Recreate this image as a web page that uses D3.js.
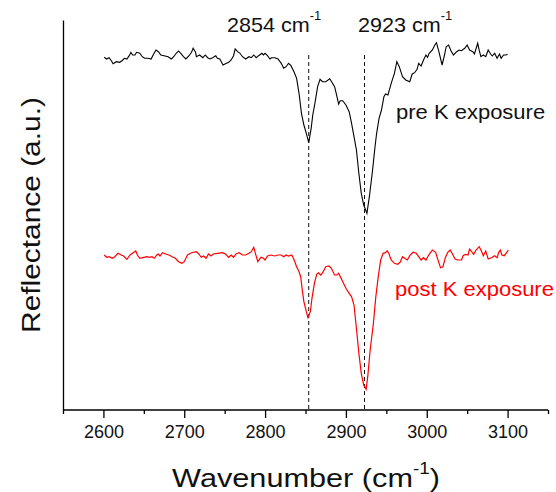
<!DOCTYPE html>
<html><head><meta charset="utf-8">
<script src="https://cdn.jsdelivr.net/npm/d3@7/dist/d3.min.js"></script>
<style>body{margin:0;background:#fff}svg{display:block;font-family:"Liberation Sans",Arial,sans-serif}</style>
</head><body>
<svg id="c" width="556" height="492"></svg>
<script>
const preWavenumber = [2601,2604,2607,2610,2612,2616,2620,2623,2626,2629,
2632,2634,2636,2639,2641,2645,2648,2651,2655,2659,
2662,2665,2668,2671,2675,2680,2684,2687,2690,2693,
2696,2699,2702,2706,2709,2711,2714,2715,2719,2723,
2726,2729,2732,2735,2739,2741,2744,2748,2751,2755,
2758,2761,2763,2766,2769,2772,2776,2780,2783,2786,
2789,2792,2796,2798,2800,2803,2806,2808,2812,2816,
2820,2823,2826,2829,2832,2836,2839,2842,2845,2848,
2851,2854,2857,2859,2862,2865,2868,2871,2875,2880,
2883,2886,2888,2891,2893,2896,2900,2904,2907,2910,
2913,2916,2919,2922,2926,2929,2933,2936,2938,2941,
2944,2947,2949,2952,2956,2960,2963,2966,2970,2974,
2979,2982,2985,2988,2990,2993,2996,2999,3001,3003,
3007,3010,3012,3015,3019,3022,3024,3027,3030,3033,
3037,3040,3043,3047,3050,3053,3057,3059,3063,3065,
3067,3070,3073,3076,3079,3081,3084,3087,3090,3092,
3095,3098,3100];
const preReflectance = [3.527,3.51,3.523,3.49,3.463,3.483,3.477,3.493,3.517,3.51,
3.543,3.577,3.55,3.55,3.577,3.567,3.533,3.517,3.517,3.51,
3.557,3.60,3.583,3.55,3.543,3.533,3.51,3.533,3.567,3.59,
3.563,3.533,3.51,3.543,3.577,3.617,3.577,3.533,3.55,3.523,
3.55,3.523,3.51,3.523,3.543,3.517,3.51,3.45,3.463,3.477,
3.50,3.543,3.61,3.583,3.567,3.533,3.51,3.533,3.523,3.55,
3.523,3.543,3.567,3.55,3.567,3.543,3.51,3.523,3.523,3.51,
3.467,3.417,3.433,3.467,3.443,3.377,3.317,3.167,2.967,2.85,
2.767,2.673,2.817,2.95,3.083,3.233,3.307,3.283,3.283,3.313,
3.273,3.233,3.167,3.06,3.093,3.093,3.05,2.983,2.867,2.733,
2.60,2.367,2.167,2.05,1.967,2.133,2.40,2.633,2.767,2.917,
3.00,3.133,3.16,3.15,3.267,3.367,3.483,3.433,3.333,3.30,
3.283,3.36,3.373,3.407,3.467,3.44,3.50,3.55,3.527,3.567,
3.60,3.65,3.673,3.583,3.45,3.55,3.633,3.65,3.593,3.55,
3.583,3.60,3.593,3.617,3.65,3.60,3.583,3.56,3.667,3.593,
3.533,3.55,3.533,3.60,3.56,3.54,3.567,3.517,3.56,3.517,
3.55,3.55,3.557];
const postWavenumber = [2601,2604,2607,2611,2614,2618,2622,2625,2629,2633,
2636,2640,2642,2645,2650,2654,2657,2660,2663,2666,
2668,2670,2673,2677,2681,2685,2689,2693,2697,2700,
2704,2709,2715,2718,2721,2724,2727,2730,2733,2736,
2741,2747,2751,2755,2758,2761,2764,2768,2772,2776,
2780,2783,2786,2788,2791,2793,2795,2798,2800,2803,
2807,2812,2816,2820,2823,2826,2829,2833,2836,2839,
2842,2844,2846,2848,2851,2853,2856,2858,2861,2864,
2866,2869,2872,2875,2879,2882,2886,2889,2891,2894,
2897,2900,2904,2907,2910,2913,2916,2919,2922,2925,
2927,2930,2934,2937,2940,2943,2946,2949,2951,2953,
2956,2960,2964,2967,2970,2974,2976,2979,2983,2987,
2990,2993,2996,2999,3003,3007,3011,3013,3017,3020,
3023,3026,3029,3032,3035,3038,3043,3045,3048,3051,
3053,3055,3058,3061,3065,3068,3070,3073,3076,3080,
3084,3087,3089,3091,3093,3096,3099,3101];
const postReflectance = [1.55,1.527,1.533,1.517,1.533,1.567,1.55,1.54,1.507,1.55,
1.567,1.59,1.55,1.517,1.527,1.533,1.527,1.533,1.517,1.55,
1.56,1.54,1.573,1.56,1.55,1.533,1.517,1.483,1.467,1.483,
1.55,1.573,1.583,1.56,1.527,1.54,1.517,1.56,1.54,1.56,
1.567,1.573,1.56,1.527,1.55,1.527,1.56,1.573,1.55,1.55,
1.567,1.583,1.627,1.567,1.483,1.507,1.527,1.517,1.50,1.54,
1.55,1.54,1.55,1.55,1.533,1.55,1.54,1.55,1.50,1.433,
1.383,1.333,1.20,1.083,0.983,0.923,0.983,1.117,1.267,1.36,
1.373,1.35,1.383,1.433,1.44,1.417,1.35,1.35,1.367,1.317,
1.267,1.217,1.167,1.133,1.05,0.817,0.567,0.367,0.25,0.207,
0.333,0.60,0.867,1.133,1.333,1.50,1.567,1.573,1.593,1.567,
1.50,1.467,1.457,1.477,1.533,1.51,1.50,1.543,1.577,1.567,
1.533,1.50,1.523,1.50,1.557,1.60,1.577,1.523,1.423,1.433,
1.523,1.577,1.60,1.557,1.51,1.50,1.50,1.543,1.557,1.55,
1.61,1.59,1.557,1.60,1.633,1.583,1.543,1.59,1.51,1.523,
1.543,1.523,1.577,1.60,1.55,1.543,1.577,1.60];
const majorTicks = [2600,2700,2800,2900,3000,3100];
const minorTicks = [2550,2650,2750,2850,2950,3050,3150];
const peakPositions = [2854, 2923];
const peakLabels = ["2854 cm", "2923 cm"];
const seriesLabels = ["pre K exposure", "post K exposure"];
const xTitle = "Wavenumber (cm";
const yTitle = "Reflectance (a.u.)";

const svg = d3.select("#c");
const x = d3.scaleLinear().domain([2550, 3150]).range([63, 548]);
const y = d3.scaleLinear().domain([0, 3.9]).range([410, 20]);

// dashed peak markers
svg.selectAll("line.peak").data(peakPositions).enter().append("line")
  .attr("x1", d => x(d)).attr("x2", d => x(d))
  .attr("y1", 55).attr("y2", 410)
  .attr("stroke", "#111").attr("stroke-width", 1).attr("stroke-dasharray", "4,3");

// curves
const line = d3.line().x(d => x(d[0])).y(d => y(d[1]));
svg.append("path").datum(d3.zip(preWavenumber, preReflectance))
  .attr("d", line).attr("fill", "none").attr("stroke", "#000").attr("stroke-width", 1.1);
svg.append("path").datum(d3.zip(postWavenumber, postReflectance))
  .attr("d", line).attr("fill", "none").attr("stroke", "#ff0000").attr("stroke-width", 1.2);

// axes
const xAxis = svg.append("g").attr("transform", "translate(0,410)")
  .call(d3.axisBottom(x).tickValues(majorTicks).tickFormat(d3.format("d")).tickSize(8).tickSizeOuter(0));
xAxis.select(".domain").attr("stroke", "#000").attr("stroke-width", 1.3).attr("d", "M63,0H548");
xAxis.selectAll(".tick line").attr("stroke", "#000").attr("stroke-width", 1.3);
xAxis.selectAll(".tick text").attr("font-size", 18).attr("font-family", "Liberation Sans, Arial, sans-serif")
  .attr("fill", "#111").attr("y", 0).attr("dy", 0).attr("transform", "translate(0,28)");
const minorG = svg.append("g").attr("transform", "translate(0,410)")
  .call(d3.axisBottom(x).tickValues(minorTicks).tickFormat("").tickSize(4).tickSizeOuter(0));
minorG.select(".domain").remove();
minorG.selectAll(".tick line").attr("stroke", "#000").attr("stroke-width", 1.3);

const yAxis = svg.append("g").attr("transform", "translate(63,0)")
  .call(d3.axisLeft(y).tickValues([]).tickSizeOuter(0));
yAxis.select(".domain").attr("stroke", "#000").attr("stroke-width", 1.3);

// peak labels
const peakLabelX = [227, 358];
peakLabels.forEach((t, i) => {
  const g = svg.append("g").attr("transform", `translate(${peakLabelX[i]},32) scale(1.08,1)`);
  const tx = g.append("text").attr("font-size", 20).attr("fill", "#111");
  tx.append("tspan").text(t);
  tx.append("tspan").attr("font-size", 12).attr("dy", -12).text("-1");
});

// series labels
const labelPos = [[396, 119, "#111"], [395, 296, "#ff0000"]];
seriesLabels.forEach((t, i) => {
  svg.append("g").attr("transform", `translate(${labelPos[i][0]},${labelPos[i][1]}) scale(1.1,1)`)
    .append("text").attr("font-size", 20).attr("fill", labelPos[i][2]).text(t);
});

// axis titles
const xt = svg.append("g").attr("transform", "translate(306,487) scale(1.18,1)")
  .append("text").attr("text-anchor", "middle").attr("font-size", 26).attr("fill", "#111");
xt.append("tspan").text(xTitle);
xt.append("tspan").attr("font-size", 16).attr("dy", -13).text("-1");
xt.append("tspan").attr("font-size", 26).attr("dy", 13).text(")");

svg.append("g").attr("transform", "translate(40,215) rotate(-90) scale(1.15,1)")
  .append("text").attr("text-anchor", "middle").attr("font-size", 26).attr("fill", "#111").text(yTitle);
</script>
</body></html>
